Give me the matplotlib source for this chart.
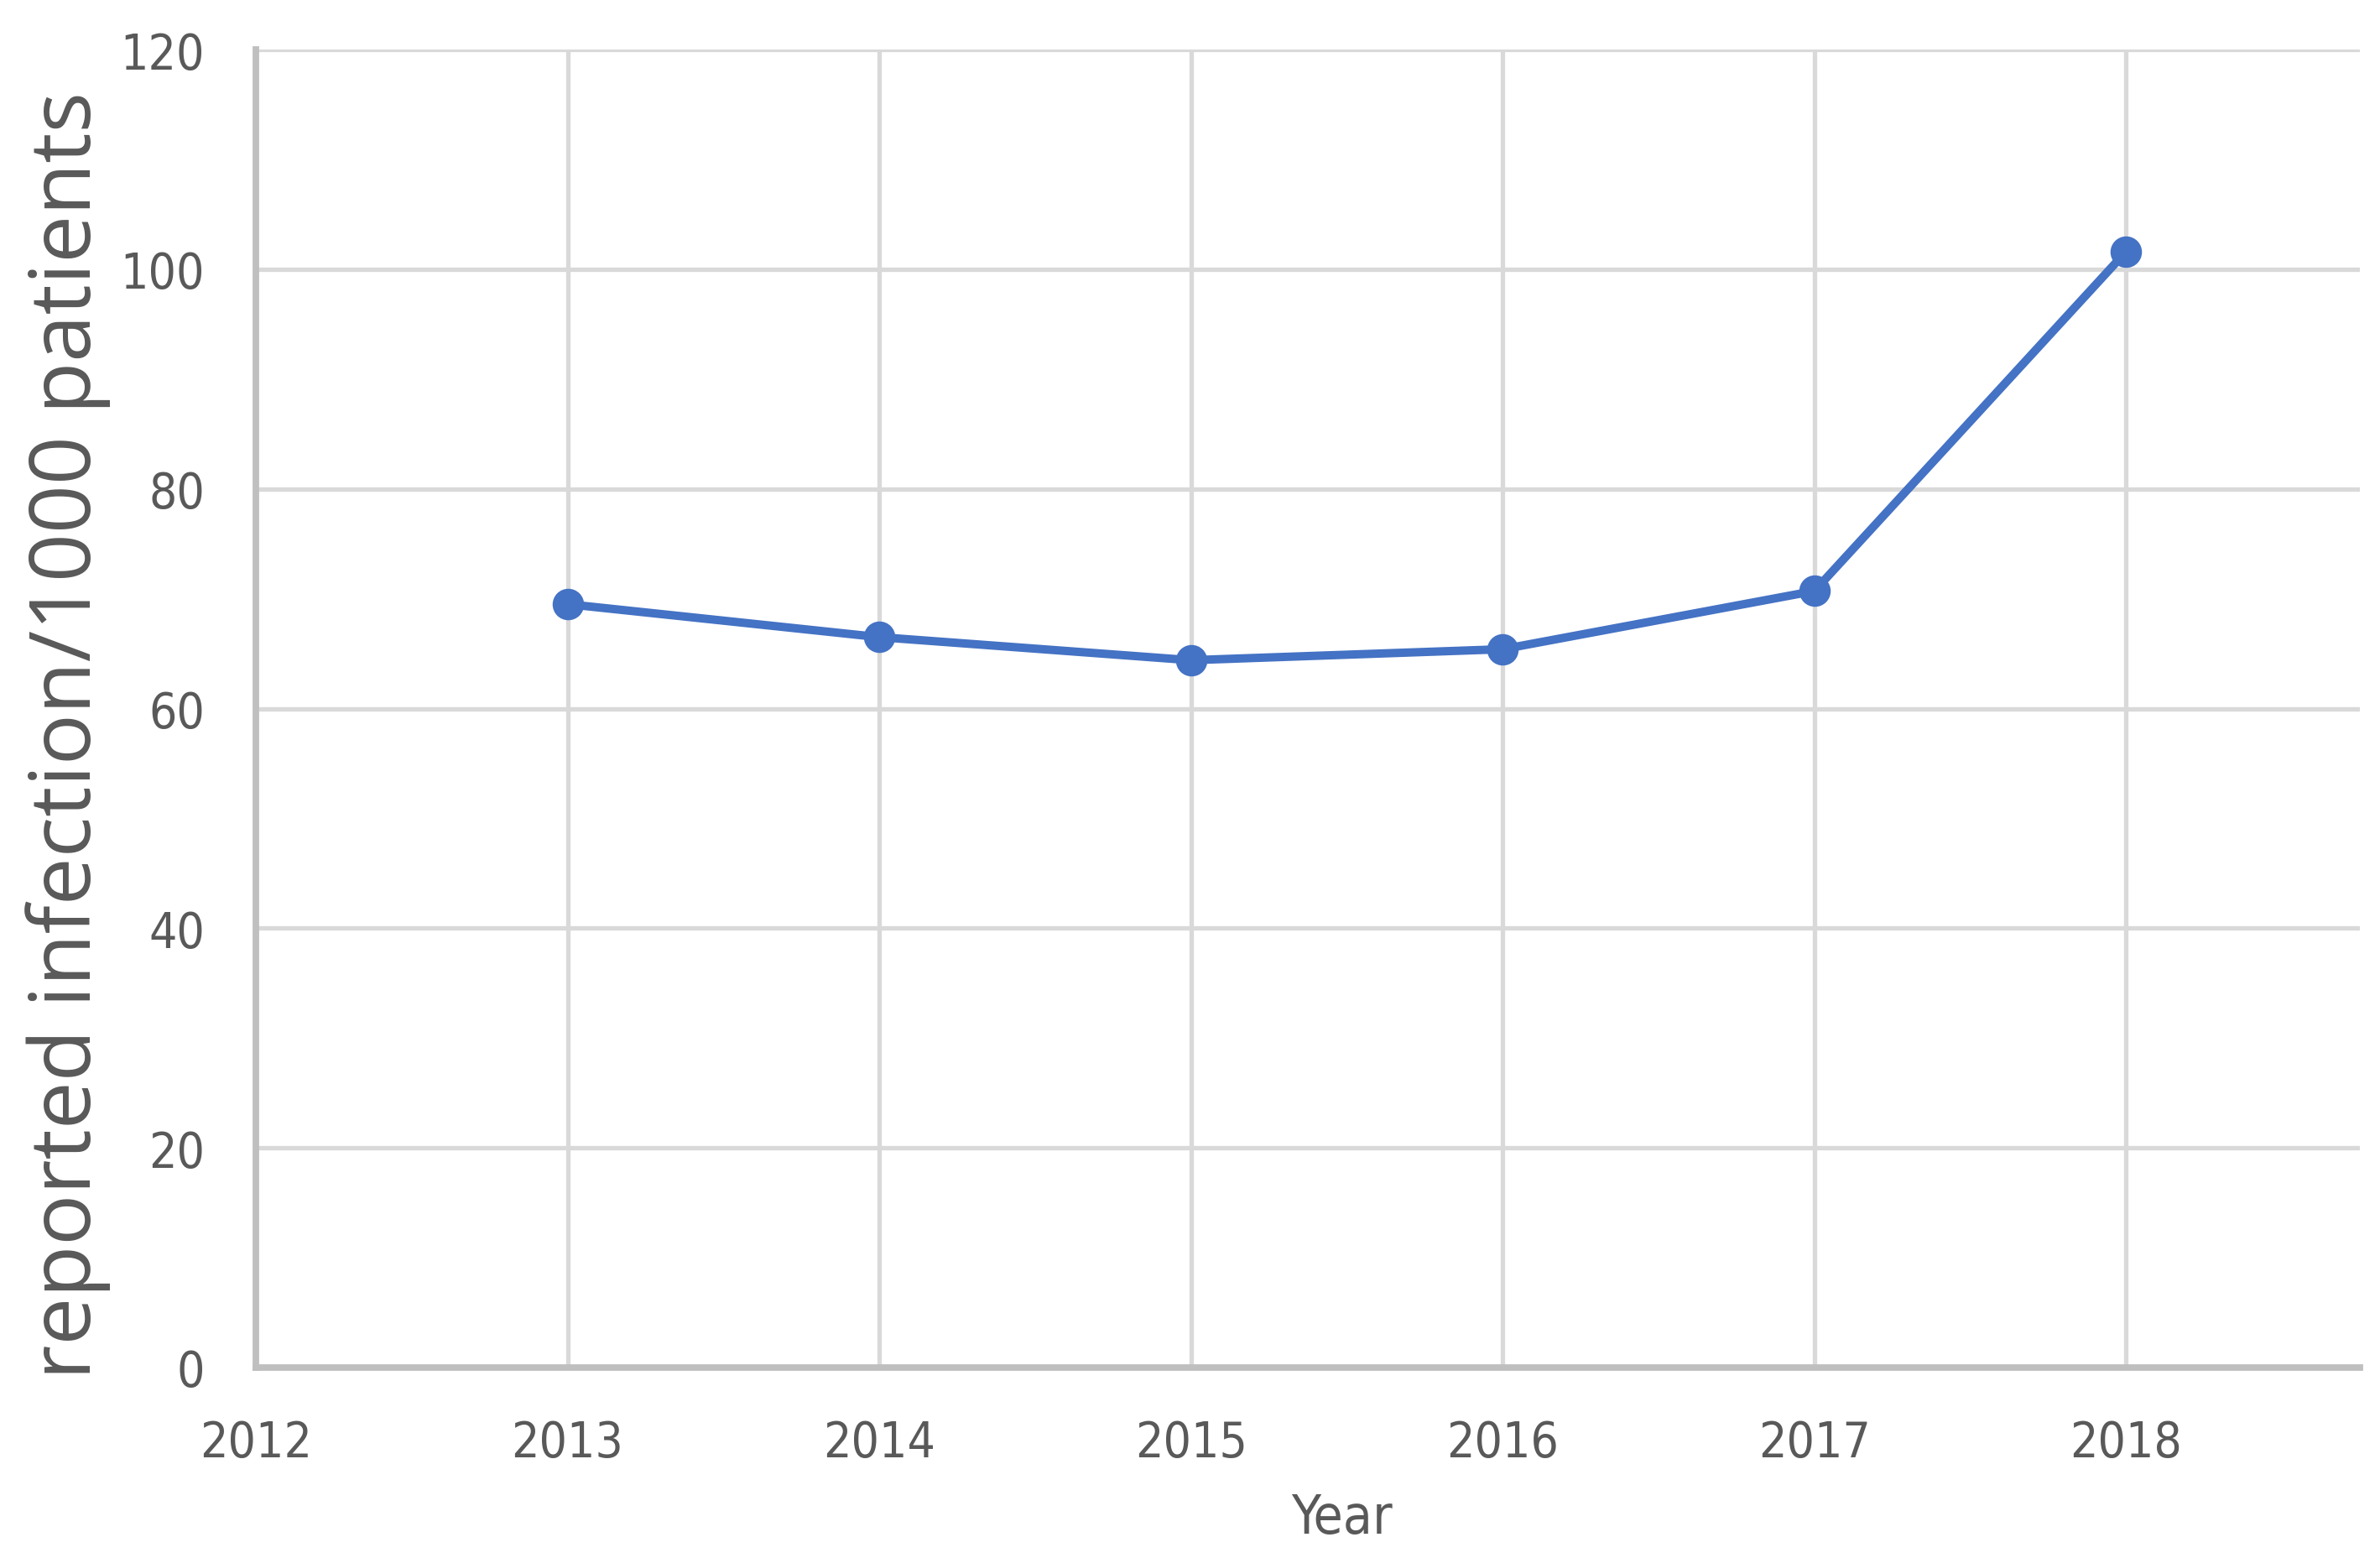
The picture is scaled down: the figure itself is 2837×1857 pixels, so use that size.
import numpy as np
from matplotlib import pyplot as plt

# data
years = [2013, 2014, 2015, 2016, 2017, 2018]
rates = [69.5, 66.5, 64.4, 65.4, 70.7, 101.6]
x_ticks = [2012, 2013, 2014, 2015, 2016, 2017, 2018]
y_ticks = [0, 20, 40, 60, 80, 100, 120]

grey_text = '#595959'

fig = plt.figure(figsize=(14.185, 9.29), dpi=200)
ax = fig.add_axes([305/2837, 1 - 1631/1858, (2813-305)/2837, (1631-60)/1858])

ax.plot(years, rates, color='#4472C4', lw=3.6, marker='o', ms=12.5,
        solid_capstyle='round', zorder=3, clip_on=False)

ax.set_xlim(2012, 2018.75)
ax.set_ylim(0, 120)
ax.set_xticks(x_ticks)
ax.set_yticks(y_ticks)
ax.grid(True, color='#d9d9d9', lw=1.9)
ax.set_axisbelow(True)

for s in ['top', 'right']:
    ax.spines[s].set_visible(False)
for s in ['left', 'bottom']:
    ax.spines[s].set_color('#bfbfbf')
    ax.spines[s].set_linewidth(2.8)

ax.tick_params(length=0, labelsize=21, colors=grey_text)
ax.tick_params(axis='y', pad=22)
ax.tick_params(axis='x', pad=22)
for lab in ax.get_xticklabels() + ax.get_yticklabels():
    lab.set_family('DejaVu Sans')
    lab.set_stretch('condensed')

ax.set_xlabel('Year', fontsize=23, color=grey_text, family='DejaVu Sans',
              stretch='condensed')
ax.xaxis.set_label_coords(0.516, -0.094)
ax.set_ylabel('reported infection/1000 patients', fontsize=36.5,
              color=grey_text, family=['Open Sans', 'DejaVu Sans'])
ax.yaxis.set_label_coords(-0.069, 0.48)

fig.savefig('out.png', dpi=200)
